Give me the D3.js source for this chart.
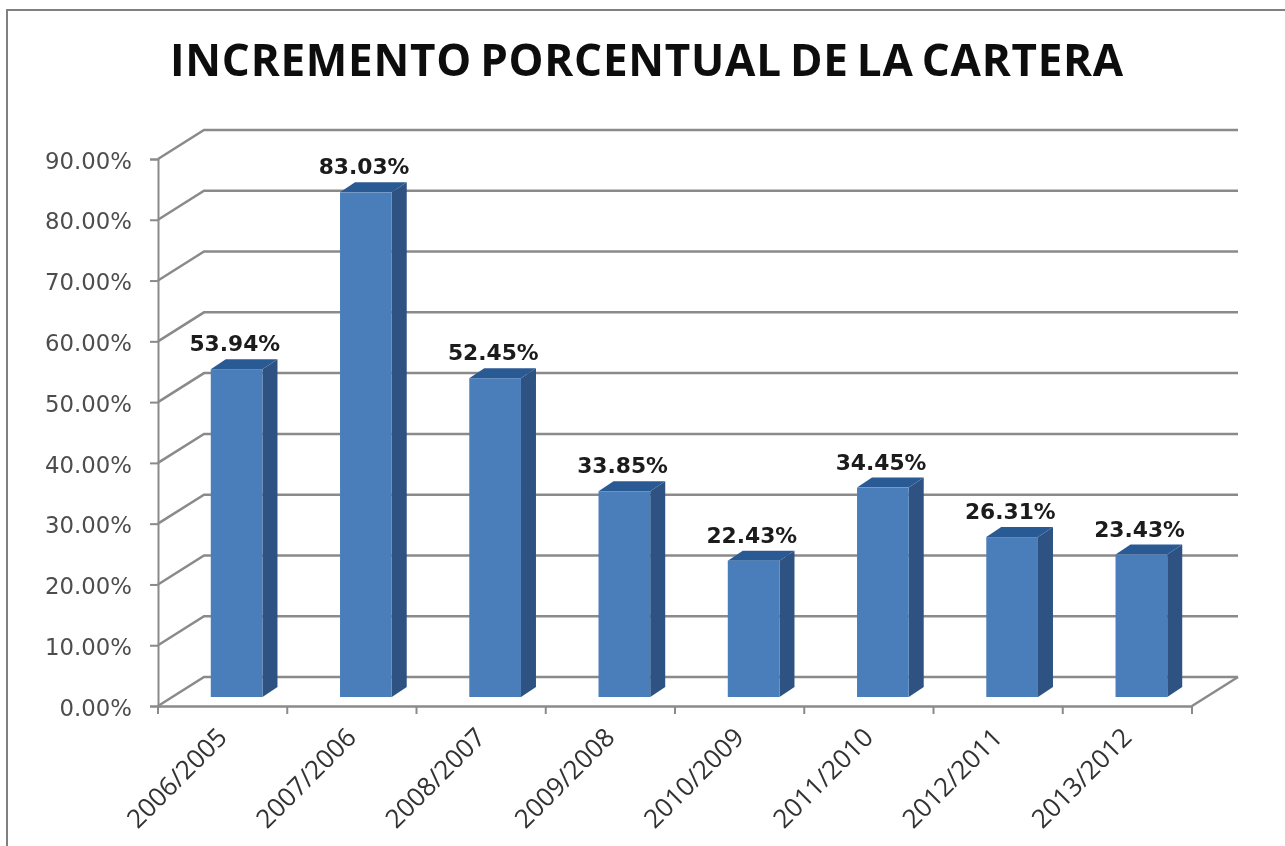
<!DOCTYPE html>
<html>
<head>
<meta charset="utf-8">
<script src="https://cdn.jsdelivr.net/npm/d3@7"></script>
<style>
  html, body { margin: 0; padding: 0; background: #fff; overflow: hidden; }
  svg { display: block; }
  .tick text { fill: #4d4d4d; }
</style>
</head>
<body>
<script>
// values
var periods = ["2006/2005", "2007/2006", "2008/2007", "2009/2008", "2010/2009", "2011/2010", "2012/2011", "2013/2012"];
var increments = [53.94, 83.03, 52.45, 33.85, 22.43, 34.45, 26.31, 23.43];
var yTicks = [0, 10, 20, 30, 40, 50, 60, 70, 80, 90];

var svgWidth = 1285, svgHeight = 846;
var axisColor = "#8a8a8a";

// plot box of the front plane, and how far the back wall is shifted
var plot = { left: 158, right: 1192, top: 159, bottom: 706 };
var wall = { dx: 46, dy: -29 };
var barInset = { dx: 14, dy: -9 };   // bars stand a little way into the floor
var barDepth = { dx: 15, dy: -10 };

var svgRoot = d3.select("body").append("svg")
  .attr("width", svgWidth)
  .attr("height", svgHeight);

// the reference is a soft, low quality screenshot
svgRoot.append("filter")
  .attr("id", "soft")
  .attr("filterUnits", "userSpaceOnUse")
  .attr("x", 0).attr("y", 0)
  .attr("width", svgWidth).attr("height", svgHeight)
  .append("feGaussianBlur")
  .attr("stdDeviation", 0.6);

var svg = svgRoot.append("g").attr("filter", "url(#soft)");

// outer frame, open at the right and bottom like the crop
svg.append("path")
  .attr("d", "M7," + svgHeight + "V10H" + svgWidth)
  .attr("fill", "none")
  .attr("stroke", "#808080")
  .attr("stroke-width", 2);

svg.append("text")
  .attr("x", 647)
  .attr("y", 76)
  .attr("text-anchor", "middle")
  .attr("font-family", "Open Sans")
  .attr("font-weight", 700)
  .attr("font-size", 44)
  .attr("letter-spacing", 0.75)
  .attr("word-spacing", -4)
  .attr("fill", "#0d0d0d")
  .text("INCREMENTO PORCENTUAL DE LA CARTERA");

var x = d3.scaleBand().domain(periods).range([plot.left, plot.right]).paddingInner(0.6).paddingOuter(0.3);
var tickX = d3.scaleBand().domain(periods).range([plot.left, plot.right]);
var y = d3.scaleLinear().domain([0, 90]).range([plot.bottom, plot.top]);

// gridlines: diagonal on the side wall, then straight along the back
var grid = svg.append("g")
  .attr("fill", "none")
  .attr("stroke", axisColor)
  .attr("stroke-width", 2.5);

grid.selectAll("path")
  .data(yTicks)
  .enter()
  .append("path")
  .attr("d", function(d) {
    return "M" + plot.left + "," + y(d) +
      "L" + (plot.left + wall.dx) + "," + (y(d) + wall.dy) +
      "H" + (plot.right + wall.dx);
  });

// floor edge on the right
grid.append("path")
  .attr("d", "M" + plot.right + "," + plot.bottom + "l" + wall.dx + "," + wall.dy);

// axes
var leftAxis = d3.axisLeft(y)
  .tickValues(yTicks)
  .tickSize(8)
  .tickPadding(18)
  .tickFormat(function(d) { return d3.format(".2f")(d) + "%"; });

var leftG = svg.append("g")
  .attr("transform", "translate(" + plot.left + ",0)")
  .call(leftAxis);
leftG.selectAll("text")
  .attr("font-family", "DejaVu Sans")
  .attr("font-size", 22.8)
  .attr("dy", "0.4em");
leftG.selectAll("line, path").attr("stroke", axisColor).attr("stroke-width", 2);

var bottomAxis = d3.axisBottom(tickX).tickSize(0).tickFormat(function() { return ""; });
var bottomG = svg.append("g")
  .attr("transform", "translate(0," + plot.bottom + ")")
  .call(bottomAxis);
bottomG.select("path").attr("stroke", axisColor).attr("stroke-width", 2.5);
bottomG.selectAll(".tick").remove();

// tick marks sit between the categories
svg.append("g")
  .selectAll("line")
  .data(periods.concat(["end"]))
  .enter()
  .append("line")
  .attr("x1", function(d, i) { return plot.left + i * tickX.step(); })
  .attr("x2", function(d, i) { return plot.left + i * tickX.step(); })
  .attr("y1", plot.bottom)
  .attr("y2", plot.bottom + 8)
  .attr("stroke", axisColor)
  .attr("stroke-width", 2);

// 3d bars
var bars = svg.append("g")
  .selectAll("g")
  .data(increments)
  .enter()
  .append("g")
  .attr("transform", "translate(" + barInset.dx + "," + barInset.dy + ")");

function barLeft(d, i) { return x(periods[i]); }

bars.append("path")
  .attr("fill", "#2f5283")
  .attr("d", function(d, i) {
    var xr = barLeft(d, i) + x.bandwidth();
    return "M" + xr + "," + y(d) +
      "l" + barDepth.dx + "," + barDepth.dy +
      "V" + (y(0) + barDepth.dy) +
      "l" + (-barDepth.dx) + "," + (-barDepth.dy) + "Z";
  });

bars.append("path")
  .attr("fill", "#2c5a94")
  .attr("d", function(d, i) {
    var xl = barLeft(d, i);
    return "M" + xl + "," + y(d) +
      "l" + barDepth.dx + "," + barDepth.dy +
      "h" + x.bandwidth() +
      "l" + (-barDepth.dx) + "," + (-barDepth.dy) + "Z";
  });

bars.append("rect")
  .attr("x", barLeft)
  .attr("y", function(d) { return y(d); })
  .attr("width", x.bandwidth())
  .attr("height", function(d) { return y(0) - y(d); })
  .attr("fill", "#4a7ebb");

// value labels
svg.append("g")
  .selectAll("text")
  .data(increments)
  .enter()
  .append("text")
  .attr("x", function(d, i) { return barLeft(d, i) + barInset.dx + 24; })
  .attr("y", function(d) { return y(d) + barInset.dy - 18; })
  .attr("text-anchor", "middle")
  .attr("font-family", "DejaVu Sans")
  .attr("font-weight", 700)
  .attr("font-size", 21.8)
  .attr("fill", "#1a1a1a")
  .text(function(d) { return d3.format(".2f")(d) + "%"; });

// rotated category labels
svg.append("g")
  .selectAll("text")
  .data(periods)
  .enter()
  .append("text")
  .attr("transform", function(d) {
    return "translate(" + (tickX(d) + tickX.bandwidth() / 2 + 6) + "," + (plot.bottom + 33) + ") rotate(-45)";
  })
  .attr("text-anchor", "end")
  .attr("font-family", "Open Sans")
  .attr("font-size", 26)
  .attr("fill", "#333")
  .text(function(d) { return d; });
</script>
</body>
</html>
